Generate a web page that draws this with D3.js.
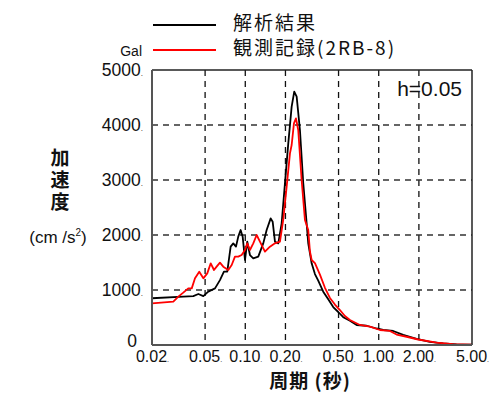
<!DOCTYPE html>
<html><head><meta charset="utf-8">
<script src="https://cdn.jsdelivr.net/npm/d3@7"></script>
<style>
body{margin:0;background:#fff;}
svg{display:block;}
text{font-family:"Liberation Sans",Arial,sans-serif;fill:#111;}
.cjk{font-family:"Noto Sans CJK JP","Noto Sans CJK SC",sans-serif;}
</style></head>
<body>
<script>
// ---- data ----
const xTickValues = [0.02, 0.05, 0.1, 0.2, 0.5, 1, 2, 5];
const xTickLabels = ["0.02", "0.05", "0.10", "0.20", "0.50", "1.00", "2.00", "5.00"];
const yTickValues = [0, 1000, 2000, 3000, 4000, 5000];
const yTickLabels = ["0", "1000", "2000", "3000", "4000", "5000"];
const seriesNames = ["解析結果", "観測記録(2RB-8)"];

const analysisPeriod = [0.0200,0.0343,0.0408,0.0445,0.0485,0.0528,0.0593,0.0646,0.0692,0.0733,0.0777,0.0813,0.0852,0.0886,0.0923,0.0956,0.0995,0.1035,0.1084,0.1148,0.1251,0.1364,0.1446,0.1550,0.1604,0.1669,0.1767,0.1873,0.1983,0.2100,0.2226,0.2328,0.2427,0.2568,0.2718,0.2883,0.2964,0.3143,0.3327,0.3522,0.3839,0.4186,0.4561,0.4973,0.5420,0.6084,0.6830,0.8114,0.9640,1.081,1.284,1.525,1.922,2.418,3.042,3.832,5.00];
const analysisValue = [850,878,890,927,890,970,1030,1180,1333,1333,1788,1848,1788,1970,2090,1970,1545,1878,1636,1576,1606,1848,2090,2303,2242,1878,1848,2212,2939,3667,4333,4606,4515,3909,2950,2212,1850,1485,1290,1170,970,830,690,600,505,440,364,350,300,273,255,185,110,58,28,12,8];

const observedPeriod = [0.0200,0.0289,0.0315,0.0343,0.0374,0.0397,0.0420,0.0452,0.0485,0.0519,0.0551,0.0583,0.0610,0.0646,0.0684,0.0746,0.0791,0.0837,0.0886,0.0939,0.0995,0.1035,0.1084,0.1148,0.1217,0.1288,0.1404,0.1531,0.1669,0.1819,0.1925,0.2042,0.2162,0.2226,0.2316,0.2398,0.2494,0.2644,0.2800,0.2964,0.3052,0.3143,0.3327,0.3627,0.3954,0.4309,0.4698,0.5120,0.5580,0.6084,0.7228,0.8590,1.021,1.213,1.361,1.618,1.976,2.716,3.610,5.00];
const observedValue = [758,788,879,952,1030,1030,1212,1333,1212,1303,1485,1364,1424,1497,1424,1364,1455,1606,1606,1636,1727,1848,1727,1848,2000,1878,1697,1788,1848,1878,2273,2879,3485,3636,4030,4121,3909,3000,2273,2090,1700,1545,1490,1280,1040,855,735,636,527,455,364,333,273,255,190,150,100,42,14,8];

// ---- layout ----
const W = 494, H = 394;
const L = 152, R = 472, T = 70, B = 345;

const svg = d3.select("body").append("svg").attr("width", W).attr("height", H);

const x = d3.scaleLog().domain([0.02, 5]).range([L, R]);
const y = d3.scaleLinear().domain([0, 5000]).range([B, T]);

// grid
const g = svg.append("g");
g.selectAll(".vg").data(xTickValues.slice(1, -1)).join("line")
  .attr("x1", d => x(d)).attr("x2", d => x(d)).attr("y1", T).attr("y2", B)
  .attr("stroke", "#111").attr("stroke-width", 1.3).attr("stroke-dasharray", "6,5");
g.selectAll(".hg").data(yTickValues.slice(1, -1)).join("line")
  .attr("x1", L).attr("x2", R).attr("y1", d => y(d)).attr("y2", d => y(d))
  .attr("stroke", "#333").attr("stroke-width", 1.3).attr("stroke-dasharray", "6,5");

// curves
const line = d3.line().x(d => x(d[0])).y(d => y(d[1]));
const analysis = analysisPeriod.map((p, i) => [p, analysisValue[i]]);
const observed = observedPeriod.map((p, i) => [p, observedValue[i]]);
svg.append("path").datum(analysis).attr("d", line).attr("fill", "none")
  .attr("stroke", "#000").attr("stroke-width", 1.8).attr("stroke-linejoin", "round");
svg.append("path").datum(observed).attr("d", line).attr("fill", "none")
  .attr("stroke", "#ff0000").attr("stroke-width", 1.8).attr("stroke-linejoin", "round");

// frame
svg.append("line").attr("x1", L).attr("x2", R).attr("y1", T).attr("y2", T).attr("stroke", "#222").attr("stroke-width", 1.5);
svg.append("line").attr("x1", R).attr("x2", R).attr("y1", T).attr("y2", B).attr("stroke", "#222").attr("stroke-width", 1.5);
svg.append("line").attr("x1", L).attr("x2", R).attr("y1", B).attr("y2", B).attr("stroke", "#555").attr("stroke-width", 2);
svg.append("line").attr("x1", L).attr("x2", L).attr("y1", T).attr("y2", B).attr("stroke", "#555").attr("stroke-width", 2);

// axes (labels only)
const xAxis = d3.axisBottom(x).tickValues(xTickValues).tickFormat((d, i) => xTickLabels[i]).tickSize(0).tickPadding(0);
const xa = svg.append("g").attr("transform", `translate(0,${B})`).call(xAxis);
xa.select(".domain").remove();
xa.selectAll("text").attr("font-size", 16).attr("font-family", "Liberation Sans, Arial, sans-serif")
  .attr("fill", "#111").attr("y", 12).attr("dy", "0.32em")
  .each(function(d, i) { d3.select(this).append("tspan").attr("font-size", 7).text("."); });

const yAxis = d3.axisLeft(y).tickValues(yTickValues).tickFormat((d, i) => yTickLabels[i]).tickSize(0).tickPadding(0);
const ya = svg.append("g").attr("transform", `translate(${L - 9},0)`).call(yAxis);
ya.select(".domain").remove();
ya.selectAll("text").attr("font-size", 17.5).attr("font-family", "Liberation Sans, Arial, sans-serif")
  .attr("fill", "#111")
  .each(function(d) {
    if (d === 0) { d3.select(this).attr("x", -6).attr("dy", "0.1em"); }
    else { d3.select(this).append("tspan").attr("font-size", 8).text("."); }
  });

// Gal unit
svg.append("text").attr("x", 142).attr("y", 56).attr("text-anchor", "end").attr("font-size", 14).text("Gal");

// y title (vertical writing)
svg.append("text").attr("class", "cjk")
  .attr("x", 60).attr("y", 181).attr("text-anchor", "middle")
  .attr("writing-mode", "vertical-rl").attr("letter-spacing", 3)
  .attr("font-size", 19).attr("font-weight", "bold").text("加速度");
const unit = svg.append("text").attr("x", 58).attr("y", 243).attr("text-anchor", "middle").attr("font-size", 17);
unit.append("tspan").text("(cm /s");
unit.append("tspan").attr("font-size", 10).attr("dy", -7).text("2");
unit.append("tspan").attr("dy", 7).text(")");

// x title
svg.append("text").attr("class", "cjk").attr("x", 310).attr("y", 388).attr("text-anchor", "middle")
  .attr("font-size", 19).attr("font-weight", "bold").attr("letter-spacing", 1).text("周期 (秒)");

// h label
svg.append("text").attr("x", 462).attr("y", 96).attr("text-anchor", "end").attr("font-size", 21).text("h=0.05");

// legend
const leg = [{ c: "#000", y: 25 }, { c: "#ff0000", y: 50 }];
svg.selectAll(".ll").data(leg).join("line").attr("x1", 153).attr("x2", 216)
  .attr("y1", d => d.y).attr("y2", d => d.y).attr("stroke", d => d.c).attr("stroke-width", 1.8);
svg.selectAll(".lt").data(seriesNames).join("text").attr("class", "cjk")
  .attr("x", 233).attr("y", (d, i) => 30 + i * 25).attr("font-size", 19).attr("letter-spacing", 2).text(d => d);
</script>
</body></html>
